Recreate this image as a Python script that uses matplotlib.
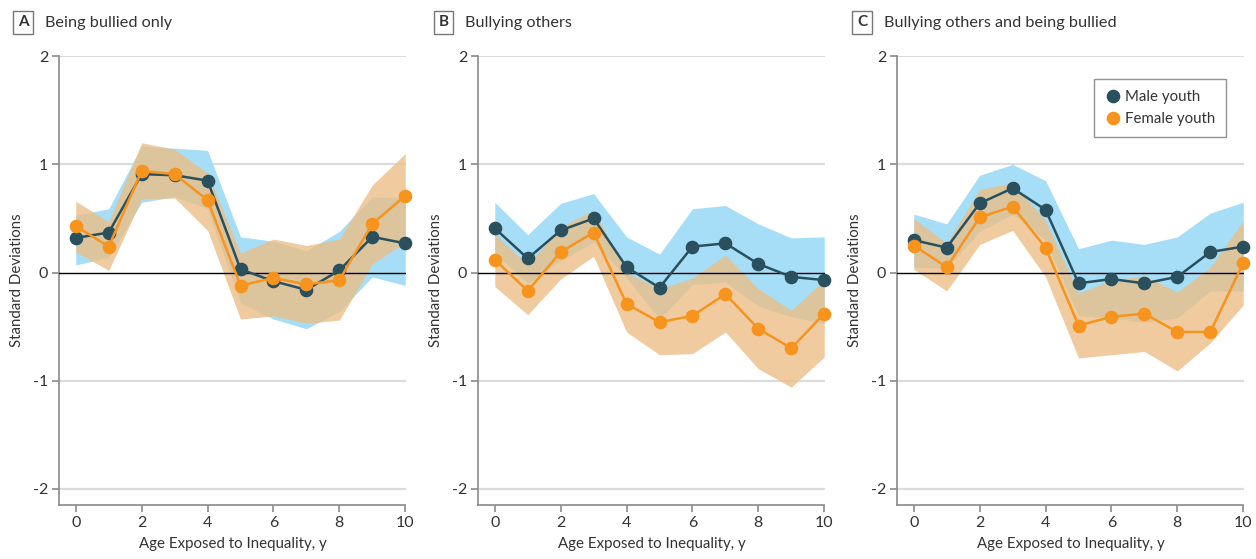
import matplotlib
matplotlib.use("Agg")
import matplotlib.pyplot as plt
from matplotlib.lines import Line2D

plt.rcParams["font.family"] = ["Lato", "DejaVu Sans"]

AGES = [0, 1, 2, 3, 4, 5, 6, 7, 8, 9, 10]

# Panel A - being bullied only
A_MALE = [0.32, 0.37, 0.91, 0.90, 0.85, 0.03, -0.08, -0.16, 0.02, 0.33, 0.27]
A_MALE_LO = [0.07, 0.14, 0.65, 0.70, 0.59, -0.28, -0.43, -0.52, -0.36, -0.04, -0.12]
A_MALE_HI = [0.53, 0.59, 1.17, 1.15, 1.13, 0.33, 0.29, 0.20, 0.38, 0.70, 0.69]
A_FEMALE = [0.43, 0.24, 0.94, 0.91, 0.67, -0.12, -0.05, -0.11, -0.07, 0.45, 0.71]
A_FEMALE_LO = [0.19, 0.02, 0.68, 0.69, 0.39, -0.43, -0.40, -0.47, -0.44, 0.08, 0.28]
A_FEMALE_HI = [0.66, 0.47, 1.20, 1.14, 0.92, 0.18, 0.31, 0.25, 0.31, 0.81, 1.10]

# Panel B - bullying others
B_MALE = [0.41, 0.13, 0.39, 0.50, 0.05, -0.14, 0.24, 0.27, 0.08, -0.04, -0.07]
B_MALE_LO = [0.18, -0.10, 0.11, 0.28, -0.05, -0.43, -0.11, -0.09, -0.31, -0.41, -0.47]
B_MALE_HI = [0.65, 0.35, 0.64, 0.73, 0.33, 0.17, 0.59, 0.62, 0.45, 0.32, 0.33]
B_FEMALE = [0.12, -0.17, 0.19, 0.37, -0.29, -0.46, -0.40, -0.20, -0.52, -0.70, -0.38]
B_FEMALE_LO = [-0.13, -0.39, -0.06, 0.15, -0.55, -0.76, -0.75, -0.55, -0.89, -1.06, -0.78]
B_FEMALE_HI = [0.36, 0.07, 0.42, 0.58, 0.0, -0.15, -0.05, 0.16, -0.15, -0.35, -0.07]

# Panel C - bullying others and being bullied
C_MALE = [0.30, 0.23, 0.64, 0.78, 0.58, -0.10, -0.06, -0.10, -0.04, 0.19, 0.24]
C_MALE_LO = [0.05, 0.04, 0.38, 0.54, 0.30, -0.40, -0.42, -0.46, -0.42, -0.17, -0.17]
C_MALE_HI = [0.54, 0.45, 0.90, 1.00, 0.85, 0.22, 0.30, 0.26, 0.33, 0.55, 0.65]
C_FEMALE = [0.25, 0.05, 0.51, 0.61, 0.23, -0.49, -0.41, -0.38, -0.55, -0.55, 0.09]
C_FEMALE_LO = [0.03, -0.17, 0.26, 0.39, -0.04, -0.79, -0.76, -0.73, -0.91, -0.65, -0.30]
C_FEMALE_HI = [0.50, 0.27, 0.77, 0.83, 0.48, -0.19, -0.07, -0.03, -0.18, 0.05, 0.48]

PANELS = [
    ("A", "Being bullied only", A_MALE, A_MALE_LO, A_MALE_HI, A_FEMALE, A_FEMALE_LO, A_FEMALE_HI),
    ("B", "Bullying others", B_MALE, B_MALE_LO, B_MALE_HI, B_FEMALE, B_FEMALE_LO, B_FEMALE_HI),
    ("C", "Bullying others and being bullied", C_MALE, C_MALE_LO, C_MALE_HI, C_FEMALE, C_FEMALE_LO, C_FEMALE_HI),
]

MALE_COLOR = "#2a505e"
FEMALE_COLOR = "#f7941e"
MALE_BAND = "#a6def7"
FEMALE_BAND = (0.92, 0.745, 0.52)
TEXT_COLOR = "#333333"
AXIS_COLOR = "#8a8a8a"

fig = plt.figure(figsize=(12.56, 5.59), dpi=100)

lefts = [59.3, 478.3, 897.3]
letter_x = [12.3, 432.3, 851.0]
W, H = 1256, 559

for (letter, title, m, m_lo, m_hi, f, f_lo, f_hi), left, lx in zip(PANELS, lefts, letter_x):
    ax = fig.add_axes([left / W, 0.0966, 346.6 / W, 0.8027])
    ax.fill_between(AGES, m_lo, m_hi, color=MALE_BAND, lw=0, zorder=1)
    ax.fill_between(AGES, f_lo, f_hi, color=FEMALE_BAND, alpha=0.79, lw=0, zorder=2)
    for yv in [-2, -1, 1, 2]:
        ax.axhline(yv, color="#dcdcdc", lw=1.6, zorder=0)
    ax.axhline(0, color="black", lw=1.0, zorder=3)
    ax.plot(AGES, m, color=MALE_COLOR, lw=1.8, marker="o", ms=8.8, zorder=4, clip_on=False)
    ax.plot(AGES, f, color=FEMALE_COLOR, lw=1.8, marker="o", ms=8.8, zorder=5, clip_on=False)

    ax.set_xlim(-0.5, 10.02)
    ax.set_ylim(-2.15, 2.0)
    ax.set_xticks([0, 2, 4, 6, 8, 10])
    ax.set_yticks([-2, -1, 0, 1, 2])
    ax.set_yticklabels(["-2", "-1", "0", "1", "2"])
    for s in ["top", "right"]:
        ax.spines[s].set_visible(False)
    for s in ["left", "bottom"]:
        ax.spines[s].set_color(AXIS_COLOR)
        ax.spines[s].set_linewidth(1.2)
    ax.spines["bottom"].set_bounds(-0.5, 10)
    ax.tick_params(axis="both", colors=AXIS_COLOR, length=5, width=1.2,
                   labelsize=11.5, labelcolor=TEXT_COLOR, pad=3)
    ax.set_xlabel("Age Exposed to Inequality, y", fontsize=10.8, color=TEXT_COLOR, labelpad=5)
    ax.set_ylabel("Standard Deviations", fontsize=10.8, color=TEXT_COLOR, labelpad=6)

    fig.text((lx + 11) / W, 1 - 22.5 / H, letter, fontsize=11, fontweight="bold",
             color=TEXT_COLOR, ha="center", va="center",
             bbox=dict(boxstyle="square,pad=0.3", fc="white", ec="#777777", lw=1.0))
    fig.text((lx + 33) / W, 1 - 22.5 / H, title, fontsize=11.7, color=TEXT_COLOR,
             ha="left", va="center")

    if letter == "C":
        handles = [
            Line2D([], [], color=MALE_COLOR, marker="o", ls="none", ms=8.8, label="Male youth"),
            Line2D([], [], color=FEMALE_COLOR, marker="o", ls="none", ms=8.8, label="Female youth"),
        ]
        leg = ax.legend(handles=handles, loc="upper left",
                        bbox_to_anchor=((1086 - left) / 346.6, (505 - 72) / 448.7),
                        fontsize=10.8, frameon=True, fancybox=False, handletextpad=0.2,
                        handlelength=1.2, borderpad=0.7, labelspacing=0.55,
                        labelcolor=TEXT_COLOR)
        leg.get_frame().set_edgecolor("#777777")
        leg.get_frame().set_linewidth(1.0)

fig.savefig("out.png", dpi=100)
